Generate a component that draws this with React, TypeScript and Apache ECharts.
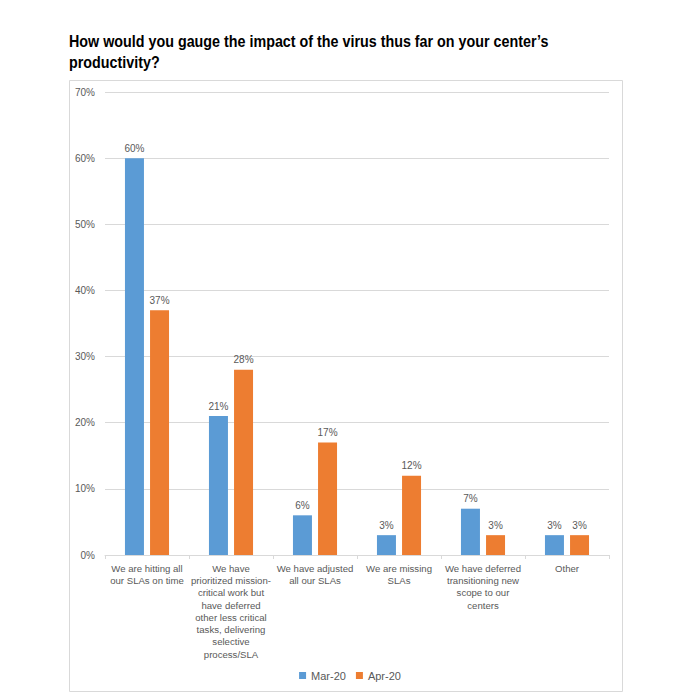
import { useEffect, useRef } from "react";
import * as echarts from "echarts";

const categories = [
  "We are hitting all\nour SLAs on time",
  "We have\nprioritized mission-\ncritical work but\nhave deferred\nother less critical\ntasks, delivering\nselective\nprocess/SLA",
  "We have adjusted\nall our SLAs",
  "We are missing\nSLAs",
  "We have deferred\ntransitioning new\nscope to our\ncenters",
  "Other",
];
const mar20 = [60, 21, 6, 3, 7, 3];
const apr20 = [37, 28, 17, 12, 3, 3];
const titleLines = ["How would you gauge the impact of the virus thus far on your center’s", "productivity?"];

const FONT = "'Liberation Sans', Arial, sans-serif";

export default function App() {
  const ref = useRef<HTMLDivElement>(null);

  useEffect(() => {
    document.body.style.margin = "0";
    if (!ref.current) return;
    const chart = echarts.init(ref.current, null, { renderer: "svg" });

    const barLabel = {
      show: true,
      position: "top",
      distance: 5,
      color: "#595959",
      fontSize: 10,
      fontFamily: FONT,
      formatter: (p: any) => `${p.value}%`,
    };

    chart.setOption({
      animation: false,
      backgroundColor: "#ffffff",
      graphic: [
        {
          type: "rect",
          shape: { x: 69.5, y: 80.5, width: 553, height: 611 },
          style: { fill: "none", stroke: "#D9D9D9", lineWidth: 1 },
          silent: true,
          z: -1,
        },
        // title, squeezed horizontally to mimic the narrower Calibri face
        {
          type: "text",
          x: 69,
          y: 31,
          scaleX: 0.895,
          style: {
            text: titleLines.join("\n"),
            fontFamily: FONT,
            fontWeight: "bold",
            fontSize: 16,
            lineHeight: 21,
            fill: "#000000",
          },
        },
      ],
      legend: {
        bottom: 14,
        left: "center",
        itemWidth: 7,
        itemHeight: 7,
        itemGap: 10,
        icon: "rect",
        textStyle: { color: "#595959", fontSize: 11, fontFamily: FONT },
        data: ["Mar-20", "Apr-20"],
      },
      grid: { left: 105, right: 91, top: 92, bottom: 145, containLabel: false },
      xAxis: {
        type: "category",
        data: categories,
        axisLine: { lineStyle: { color: "#D9D9D9" } },
        axisTick: { show: true, length: 4, lineStyle: { color: "#D9D9D9" } },
        axisLabel: {
          color: "#595959",
          fontSize: 9.6,
          lineHeight: 12.3,
          fontFamily: FONT,
          interval: 0,
          margin: 7,
        },
      },
      yAxis: {
        type: "value",
        min: 0,
        max: 70,
        interval: 10,
        axisLine: { show: false },
        axisTick: { show: false },
        axisLabel: {
          color: "#595959",
          fontSize: 10,
          fontFamily: FONT,
          margin: 10,
          formatter: (v: number) => `${v}%`,
        },
        splitLine: { lineStyle: { color: "#D9D9D9" } },
      },
      series: [
        {
          name: "Mar-20",
          type: "bar",
          data: mar20,
          barWidth: 19,
          barGap: "32%",
          itemStyle: { color: "#5B9BD5" },
          label: barLabel,
        },
        {
          name: "Apr-20",
          type: "bar",
          data: apr20,
          barWidth: 19,
          itemStyle: { color: "#ED7D31" },
          label: barLabel,
        },
      ],
    });

    return () => chart.dispose();
  }, []);

  return <div ref={ref} style={{ width: 700, height: 700 }} />;
}
